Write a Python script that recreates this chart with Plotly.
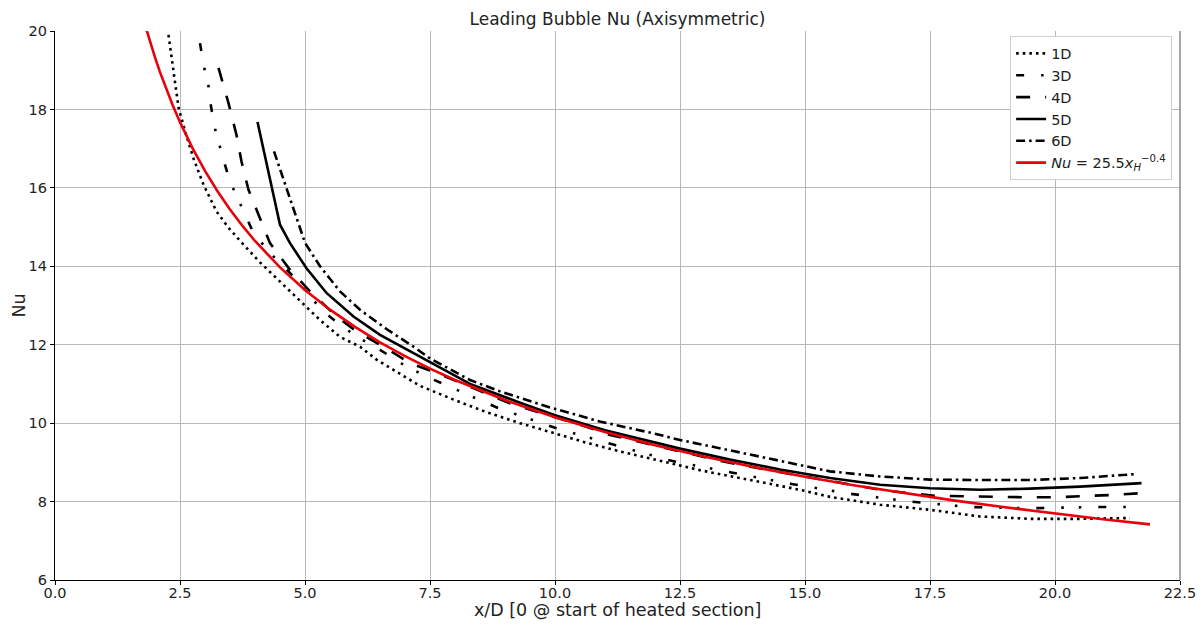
import plotly.graph_objects as go

# ---------------- data ----------------
x_1d = [2.27, 2.37, 2.47, 2.6, 2.77, 2.97, 3.23, 3.46, 3.7, 4.1, 4.63, 5.03, 5.3, 5.7, 6.1,
        6.43, 6.77, 7.3, 7.97, 8.63, 9.3, 9.97, 10.63, 11.3, 11.97, 12.9, 13.9, 14.9, 15.5,
        16.5, 17.5, 18.5, 19.5, 20.5, 21.5]
nu_1d = [19.9, 18.9, 18.05, 17.45, 16.75, 16.08, 15.4, 15.0, 14.65, 14.1, 13.45, 12.97, 12.63,
         12.2, 11.95, 11.62, 11.36, 10.95, 10.6, 10.28, 10.0, 9.74, 9.5, 9.28, 9.08, 8.8, 8.55,
         8.3, 8.12, 7.92, 7.79, 7.62, 7.56, 7.56, 7.58]

x_3d = [2.9, 2.97, 3.07, 3.11, 3.18, 3.28, 3.38, 3.5, 3.68, 3.82, 3.97, 4.3, 4.83, 5.33, 5.7,
        6.03, 6.5, 7.03, 7.57, 8.87, 10.03, 11.2, 12.33, 13.53, 14.73, 15.9, 17.1, 18.3, 19.5,
        20.77, 21.53]
nu_3d = [19.69, 19.14, 18.59, 18.16, 17.6, 17.1, 16.67, 16.16, 15.65, 15.23, 14.85, 14.34, 13.66,
         12.89, 12.51, 12.21, 11.87, 11.44, 11.11, 10.38, 9.87, 9.44, 9.04, 8.74, 8.45, 8.2,
         8.0, 7.86, 7.83, 7.86, 7.86]

x_4d = [3.27, 3.47, 3.63, 3.73, 3.87, 4.07, 4.3, 4.7, 5.1, 5.63, 6.03, 6.57, 7.1, 7.63, 9.17,
        10.5, 11.1, 12.23, 13.37, 14.63, 15.77, 16.6, 17.6, 18.23, 18.83, 19.43, 20.0, 21.17, 21.93]
nu_4d = [19.06, 18.16, 17.35, 16.67, 15.95, 15.31, 14.59, 13.91, 13.36, 12.72, 12.34, 11.95,
         11.53, 11.28, 10.47, 9.96, 9.7, 9.36, 9.02, 8.72, 8.46, 8.28, 8.15, 8.13, 8.11, 8.11,
         8.11, 8.17, 8.23]

x_5d = [4.05, 4.5, 4.7, 5.03, 5.43, 5.97, 6.5, 7.03, 7.5, 8.3, 9.3, 10.0, 11.0, 12.0, 12.5,
        13.5, 14.5, 15.5, 16.5, 17.5, 18.5, 19.5, 20.5, 21.73]
nu_5d = [17.68, 15.06, 14.59, 13.95, 13.32, 12.72, 12.25, 11.88, 11.55, 11.0, 10.52, 10.2, 9.82,
         9.5, 9.35, 9.07, 8.82, 8.6, 8.43, 8.34, 8.3, 8.33, 8.38, 8.47]

x_6d = [4.38, 4.7, 4.87, 5.0, 5.3, 5.7, 6.1, 6.63, 7.17, 7.5, 8.3, 8.9, 9.9, 10.9, 11.97, 12.5,
        13.9, 14.9, 15.5, 16.5, 17.5, 18.5, 19.5, 20.5, 21.6]
nu_6d = [16.93, 15.7, 15.06, 14.6, 14.0, 13.36, 12.89, 12.4, 11.95, 11.65, 11.1, 10.81, 10.4,
         10.04, 9.74, 9.57, 9.2, 8.94, 8.77, 8.64, 8.56, 8.55, 8.55, 8.6, 8.7]

# correlation curve Nu = C * x^n (constants from the legend)
corr_C = 25.5
corr_n = -0.4
x_corr = [1.8, 1.9, 2.0, 2.1, 2.2, 2.35, 2.5, 2.75, 3.0, 3.25, 3.5, 3.75, 4.0, 4.5, 5.0, 5.5,
          6.0, 6.5, 7.0, 7.5, 8.0, 9.0, 10.0, 11.0, 12.0, 13.0, 14.0, 15.0, 16.0, 17.0, 18.0,
          19.0, 20.0, 21.0, 21.9]
nu_corr = [corr_C * xv ** corr_n for xv in x_corr]

x_ticks = [0.0, 2.5, 5.0, 7.5, 10.0, 12.5, 15.0, 17.5, 20.0, 22.5]
y_ticks = [6, 8, 10, 12, 14, 16, 18, 20]

# ---------------- figure ----------------
FONT = "DejaVu Sans, Verdana, sans-serif"
LW = 2.6

fig = go.Figure()
series = [
    ("1D", x_1d, nu_1d, "2.6px,4px"),
    ("3D", x_3d, nu_3d, "8px,17px,2.5px,15px,2.5px,17px"),
    ("4D", x_4d, nu_4d, "14px,15px"),
    ("5D", x_5d, nu_5d, "solid"),
    ("6D", x_6d, nu_6d, "9px,4px,2.5px,4px"),
]
for name, xs, ys, dash in series:
    fig.add_trace(go.Scatter(x=xs, y=ys, mode="lines", name=name,
                             line=dict(color="black", width=LW, dash=dash)))

fig.add_trace(go.Scatter(
    x=x_corr, y=nu_corr, mode="lines",
    name="<i>Nu</i> = 25.5<i>x</i><sub><i>H</i></sub><sup>−0.4</sup>",
    line=dict(color="#e8000b", width=LW)))

fig.update_layout(
    width=1203, height=625,
    margin=dict(l=55, r=23, t=31, b=45, autoexpand=False),
    paper_bgcolor="white", plot_bgcolor="white",
    font=dict(family=FONT, size=15, color="#222"),
    title=dict(text="Leading Bubble Nu (Axisymmetric)", x=0.5, xref="paper",
               y=0.97, yanchor="middle", font=dict(family=FONT, size=17, color="#222")),
    showlegend=True,
    legend=dict(x=0.993, y=0.99, xanchor="right", yanchor="top",
                bgcolor="white", bordercolor="#d0d0d0", borderwidth=1,
                font=dict(family=FONT, size=14.5, color="#222"),
                tracegroupgap=0, itemwidth=30),
)

fig.update_xaxes(range=[0, 22.5], tickvals=x_ticks, ticktext=[f"{v:.1f}" for v in x_ticks],
                 automargin=False, ticklabelstandoff=-5,
                 showgrid=True, gridcolor="#b8b8b8", gridwidth=1,
                 showline=True, linecolor="black", linewidth=1.2,
                 ticks="outside", ticklen=4, tickcolor="black",
                 tickfont=dict(size=14.5, color="#222"),
                 zeroline=False)
fig.update_yaxes(range=[6, 20], tickvals=y_ticks, automargin=False,
                 showgrid=True, gridcolor="#b8b8b8", gridwidth=1,
                 showline=True, linecolor="black", linewidth=1.2,
                 ticks="outside", ticklen=4, tickcolor="black",
                 tickfont=dict(size=14.5, color="#222"),
                 zeroline=False)

# axis titles as annotations for exact placement
fig.add_annotation(text="x/D [0 @ start of heated section]", xref="paper", yref="paper",
                   x=0.5, y=0, yshift=-30, xanchor="center", yanchor="middle",
                   showarrow=False, font=dict(family=FONT, size=17.5, color="#222"))
fig.add_annotation(text="Nu", xref="paper", yref="paper", x=0, y=0.5, xshift=-37,
                   xanchor="center", yanchor="middle", textangle=-90,
                   showarrow=False, font=dict(family=FONT, size=17.5, color="#222"))

# right spine (grey)
fig.add_shape(type="line", xref="paper", yref="paper", x0=1, x1=1, y0=0, y1=1,
              line=dict(color="#8a8a8a", width=1.5))

fig.write_html("out.html")
